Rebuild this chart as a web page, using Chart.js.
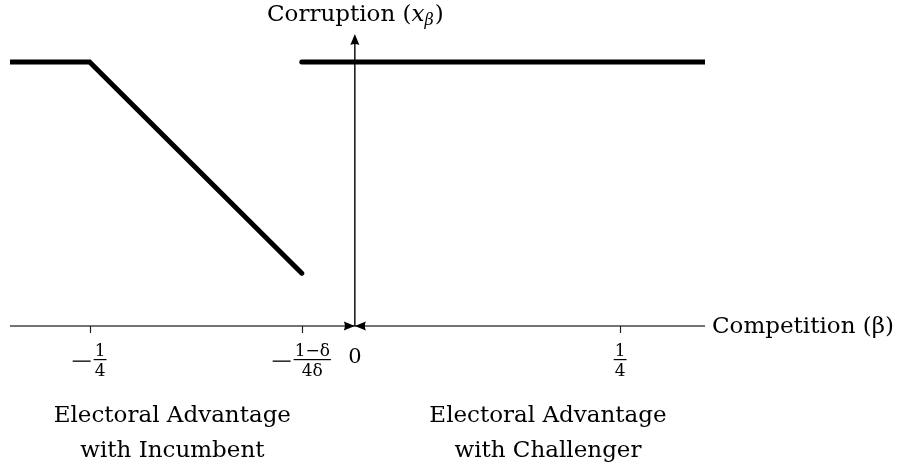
<!DOCTYPE html>
<html>
<head>
<meta charset="utf-8">
<script src="https://cdn.jsdelivr.net/npm/chart.js@4/dist/chart.umd.min.js"></script>
<style>
  html, body { margin: 0; padding: 0; background: #fff; }
  #wrap { width: 902px; height: 466px; position: relative; }
</style>
</head>
<body>
<div id="wrap"><canvas id="chart"></canvas></div>
<script>
  'use strict';

  // beta values (x) and corruption values (y)
  var incumbentX = [-0.325, -0.25, -0.05];
  var incumbentY = [1, 1, 0.2];
  var challengerX = [-0.05, 0.33];
  var challengerY = [1, 1];

  // x ticks: value, sign, numerator, denominator
  var tickValues = [-0.25, -0.05, 0.25];
  var tickSigns = [true, true, false];
  var tickNums = ['1', '1\u2212\u03b4', '1'];
  var tickDens = ['4', '4\u03b4', '4'];

  var xTitle = 'Competition (\u03b2)';
  var yTitle = 'Corruption (';
  var regionLabels = [
    ['Electoral Advantage', 'with Incumbent'],
    ['Electoral Advantage', 'with Challenger']
  ];
  var regionCenters = [-0.172, 0.182];

  var SERIF = "'DejaVu Serif', 'Liberation Serif', serif";

  function pts(xs, ys) {
    return xs.map(function(x, i) { return { x: x, y: ys[i] }; });
  }

  function arrowHead(ctx, tipX, tipY, dir, len, half) {
    ctx.beginPath();
    ctx.moveTo(tipX, tipY);
    if (dir === 'up') {
      ctx.lineTo(tipX - half, tipY + len);
      ctx.quadraticCurveTo(tipX, tipY + len - 2, tipX + half, tipY + len);
    } else if (dir === 'right') {
      ctx.lineTo(tipX - len, tipY - half);
      ctx.quadraticCurveTo(tipX - len + 2, tipY, tipX - len, tipY + half);
    } else {
      ctx.lineTo(tipX + len, tipY - half);
      ctx.quadraticCurveTo(tipX + len - 2, tipY, tipX + len, tipY + half);
    }
    ctx.closePath();
    ctx.fill();
  }

  var axesPlugin = {
    id: 'mathAxes',
    beforeDatasetsDraw: function(chart) {
      var ctx = chart.ctx;
      var xs = chart.scales.x, ys = chart.scales.y;
      var x0 = xs.getPixelForValue(0);
      var y0 = ys.getPixelForValue(0);
      var area = chart.chartArea;
      ctx.save();

      // x axis
      ctx.strokeStyle = '#444';
      ctx.lineWidth = 1.6;
      ctx.beginPath();
      ctx.moveTo(area.left, y0);
      ctx.lineTo(area.right, y0);
      ctx.stroke();

      // ticks
      ctx.strokeStyle = '#222';
      ctx.lineWidth = 1.2;
      tickValues.forEach(function(v) {
        var px = Math.round(xs.getPixelForValue(v)) + 0.5;
        ctx.beginPath();
        ctx.moveTo(px, y0);
        ctx.lineTo(px, y0 + 7);
        ctx.stroke();
      });

      // y axis
      ctx.strokeStyle = '#000';
      ctx.lineWidth = 1.4;
      ctx.beginPath();
      ctx.moveTo(x0, y0);
      ctx.lineTo(x0, area.top + 6);
      ctx.stroke();
      ctx.fillStyle = '#000';
      arrowHead(ctx, x0, area.top, 'up', 11, 4.5);
      arrowHead(ctx, x0, y0, 'right', 11, 4.5);
      arrowHead(ctx, x0, y0, 'left', 11, 4.5);
      ctx.restore();
    },
    afterDraw: function(chart) {
      var ctx = chart.ctx;
      var xs = chart.scales.x, ys = chart.scales.y;
      var x0 = xs.getPixelForValue(0);
      var y0 = ys.getPixelForValue(0);
      var area = chart.chartArea;
      ctx.save();
      ctx.fillStyle = '#000';
      ctx.textBaseline = 'alphabetic';

      // tick labels as fractions with a leading minus
      tickValues.forEach(function(v, i) {
        var px = xs.getPixelForValue(v);
        ctx.font = '17px ' + SERIF;
        var w = Math.max(ctx.measureText(tickNums[i]).width, ctx.measureText(tickDens[i]).width) + 2;
        var signW = tickSigns[i] ? 21 : 0;
        var left = px - (signW + w) / 2;
        if (tickSigns[i]) ctx.fillRect(left, y0 + 34.5, 18, 1.3);
        var fc = left + signW + w / 2;
        ctx.textAlign = 'center';
        ctx.fillText(tickNums[i], fc, y0 + 30);
        ctx.fillText(tickDens[i], fc, y0 + 50);
        ctx.fillRect(fc - w / 2, y0 + 33, w, 1.2);
      });

      // zero label
      ctx.font = '21px ' + SERIF;
      ctx.textAlign = 'center';
      ctx.fillText('0', x0, y0 + 37);

      // x title
      ctx.font = '23px ' + SERIF;
      ctx.textAlign = 'left';
      ctx.textBaseline = 'middle';
      ctx.fillText(xTitle, area.right + 7, y0 + 1);

      // y title with math x_beta
      ctx.textBaseline = 'alphabetic';
      var base = 21;
      ctx.font = '23px ' + SERIF;
      var w1 = ctx.measureText(yTitle).width;
      ctx.font = 'italic 23px ' + SERIF;
      var w2 = ctx.measureText('x').width;
      ctx.font = 'italic 16px ' + SERIF;
      var w3 = ctx.measureText('\u03b2').width;
      ctx.font = '23px ' + SERIF;
      var w4 = ctx.measureText(')').width;
      var startX = x0 - (w1 + w2 + w3 + w4) / 2;
      ctx.fillText(yTitle, startX, base);
      ctx.font = 'italic 23px ' + SERIF;
      ctx.fillText('x', startX + w1, base);
      ctx.font = 'italic 16px ' + SERIF;
      ctx.fillText('\u03b2', startX + w1 + w2, base + 4);
      ctx.font = '23px ' + SERIF;
      ctx.fillText(')', startX + w1 + w2 + w3 + 1, base);

      // region labels
      ctx.textAlign = 'center';
      regionLabels.forEach(function(lines, i) {
        var cx = xs.getPixelForValue(regionCenters[i]);
        lines.forEach(function(t, j) {
          ctx.fillText(t, cx, y0 + 96 + j * 35);
        });
      });
      ctx.restore();
    }
  };

  var lineStyle = {
    borderColor: '#000',
    borderWidth: 5,
    pointRadius: 0,
    fill: false,
    tension: 0,
    borderCapStyle: 'round',
    borderJoinStyle: 'miter'
  };

  new Chart(document.getElementById('chart'), {
    type: 'line',
    data: {
      datasets: [
        Object.assign({ label: 'Incumbent', data: pts(incumbentX, incumbentY) }, lineStyle),
        Object.assign({ label: 'Challenger', data: pts(challengerX, challengerY) }, lineStyle)
      ]
    },
    options: {
      responsive: true,
      maintainAspectRatio: false,
      animation: false,
      layout: { padding: { left: 10, right: 197, top: 34, bottom: 140 } },
      plugins: { legend: { display: false }, tooltip: { enabled: false } },
      scales: {
        x: { type: 'linear', min: -0.325, max: 0.33, display: false },
        y: { type: 'linear', min: 0, max: 1.106, display: false }
      }
    },
    plugins: [axesPlugin]
  });
</script>
</body>
</html>
